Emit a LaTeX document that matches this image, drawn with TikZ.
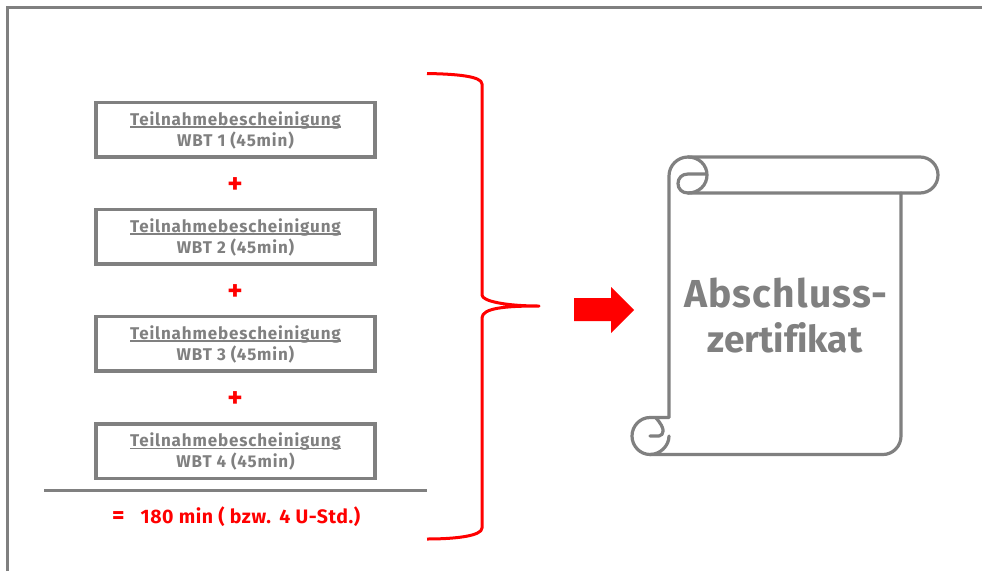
\documentclass[tikz,border=0pt]{standalone}
\usepackage{fontspec}
\setmainfont{Fira Sans}[BoldFont={* Bold}]
\definecolor{gr}{RGB}{128,128,128}
\definecolor{rd}{RGB}{255,0,0}
\newfontfamily\spaced{Fira Sans}[BoldFont={* Bold},LetterSpace=5]
\newfontfamily\spacedb{Fira Sans}[BoldFont={* Bold},LetterSpace=3]
\newsavebox\tbox
\tikzset{
  wbt/.style={draw=gr,line width=3.5pt,minimum width=279pt,minimum height=54.5pt,inner sep=0pt},
  wbtlabel/.style={inner sep=0pt,text=gr,align=center,yshift=-0.8pt,font=\spaced\bfseries\fontsize{17}{21}\selectfont},
  plus/.style={text=rd,font=\bfseries\fontsize{29}{29}\selectfont,inner sep=0pt},
  scroll/.style={draw=gr,line width=3.2pt,line join=round,line cap=round},
  brace/.style={draw=rd,line width=3pt,line join=round},
  bigtext/.style={anchor=base,inner sep=0pt,text=gr}
}
\newcommand{\wbttext}[1]{\sbox\tbox{Teilnahmebescheinigung}\usebox\tbox\llap{\rule[-2.4pt]{\wd\tbox}{1.5pt}}\\WBT #1 (45min)}
\begin{document}
\begin{tikzpicture}[x=1pt,y=-1pt]
\useasboundingbox (0,0) rectangle (982,571);
\fill[white] (0,0) rectangle (982,571);
% outer frame
\coordinate (fa) at (7.5,571);
\coordinate (fb) at (7.5,7.5);
\coordinate (fc) at (982,7.5);
\draw[gr,line width=3pt] (fa) -- (fb) -- (fc);
% certificate boxes
\node[wbt] (b1) at (235.5,129.5) {};
\node[wbt] (b2) at (235.5,236.5) {};
\node[wbt] (b3) at (235.5,343.5) {};
\node[wbt] (b4) at (235.5,451) {};
\node[wbtlabel] (l1) at (b1.center) {\wbttext{1}};
\node[wbtlabel] (l2) at (b2.center) {\wbttext{2}};
\node[wbtlabel] (l3) at (b3.center) {\wbttext{3}};
\node[wbtlabel] (l4) at (b4.center) {\wbttext{4}};
\node[plus] (p1) at (235,186) {+};
\node[plus] (p2) at (235,293) {+};
\node[plus] (p3) at (235,400) {+};
% sum rule
\coordinate (ra) at (44,490.5);
\coordinate (rb) at (427,490.5);
\draw[gr,line width=3pt] (ra) -- (rb);
\node[anchor=base west,inner sep=0pt,text=rd,font=\spacedb\bfseries\fontsize{19.5}{21}\selectfont] (sum) at (112,523) {{\fontsize{24}{24}\selectfont =}\hspace{16pt}180 min ( bzw.\ \,4 U-Std.)};
% brace
\coordinate (bt) at (427,73.5);
\coordinate (bm) at (539,306);
\coordinate (bb) at (427,539);
\draw[brace] (bt) .. controls (455,74) and (482,76) .. (482,84)
  -- (482,295) .. controls (482,301) and (505,306) .. (bm)
  .. controls (505,306) and (482,308) .. (482,318)
  -- (482,528) .. controls (482,536) and (455,539) .. (bb);
% arrow
\fill[rd] (574,298) -- (611,298) -- (611,287) -- (634,310) -- (611,333) -- (611,321) -- (574,321) -- cycle;
% scroll
\draw[scroll] (669,417) -- (669,176) .. controls (669,165.5) and (677.5,157) .. (688,157) -- (920,157)
  .. controls (930,157) and (938,165) .. (938,175) .. controls (938,185) and (930,193) .. (920,193) -- (688,193);
\draw[scroll] (688,157) .. controls (699,157) and (707,165) .. (707,175) .. controls (707,185) and (699,193) .. (688,193)
  .. controls (682,193) and (678,189) .. (678,183.5) .. controls (678,178) and (682,174) .. (688,174) -- (706,174);
\draw[scroll] (901,193) -- (901,436) .. controls (901,446) and (893,454.5) .. (883,454.5) -- (650,454.5);
\draw[scroll] (669,417.5) -- (650,417.5) .. controls (640,417.5) and (632,426) .. (632,436) .. controls (632,446) and (640,454.5) .. (650,454.5)
  .. controls (660,454.5) and (669,446) .. (669,436);
\draw[scroll] (650,436) -- (659,436) .. controls (664,435) and (666,429) .. (656,418);
\node[bigtext,font=\spacedb\bfseries\fontsize{39}{45}\selectfont] (t1) at (786,307) {Abschluss-};
\node[bigtext,font=\bfseries\fontsize{37}{45}\selectfont] (t2) at (785,352) {zertif\kern0pt ikat};
\end{tikzpicture}
\end{document}
